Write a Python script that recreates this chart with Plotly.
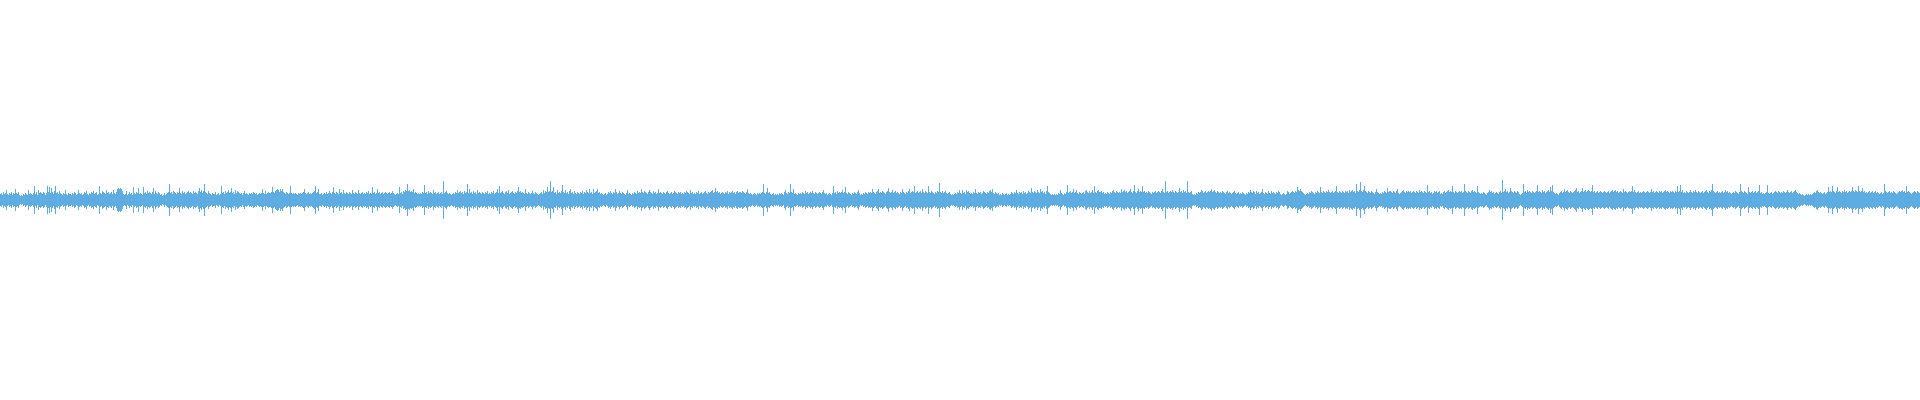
import plotly.graph_objects as go

# Half-height (peak amplitude) of each waveform column,
# one list per 240-column segment of the track.
amp_seg1 = [
    6,7,5,8,6,7,10,6,5,7, 6,8,5,7,6,11,7,6,8,5, 4,5,4,6,5,7,6,5,10,6,
    7,6,5,7,14,6,8,5,10,7, 8,7,6,8,7,5,7,14,8,13, 7,12,8,6,9,14,7,8,6,9,
    7,6,5,7,6,10,6,5,7,6, 6,5,7,6,8,7,5,6,10,7, 6,7,5,6,8,7,9,6,5,7,
    6,8,7,9,6,7,8,5,6,14, 7,6,9,8,7,6,10,7,8,6, 7,8,6,10,7,6,8,11,12,11,
    12,11,9,6,5,6,9,5,6,8, 6,7,5,13,7,6,8,7,12,6, 7,6,5,13,7,8,6,9,7,8,
    7,6,8,12,6,9,7,6,8,7, 5,6,4,5,7,5,6,7,8,16, 7,8,6,9,8,7,6,8,7,12,
    7,6,9,7,8,6,7,8,9,7, 8,7,6,9,7,8,7,6,9,12, 8,10,7,9,16,8,7,6,9,7,
    6,5,7,6,6,8,5,6,7,5, 6,14,7,8,6,9,7,8,10,7, 8,12,7,8,6,10,7,9,8,7,
]
amp_seg2 = [
    6,7,5,7,9,6,7,6,5,7, 6,7,6,8,7,6,7,5,6,7, 6,7,11,7,6,9,6,7,8,7,
    7,8,13,8,7,9,10,11,10,8, 11,9,11,8,7,6,8,7,6,7, 14,7,6,7,6,7,6,5,7,6,
    7,6,7,8,11,7,6,7,8,6, 7,6,7,8,9,14,7,8,11,6, 6,7,5,6,7,6,8,6,7,9,
    7,6,8,13,7,6,8,7,6,11, 7,8,6,10,7,6,8,7,6,8, 7,6,10,7,6,8,7,6,10,7,
    6,7,8,6,7,6,8,7,9,6, 7,6,13,7,8,6,7,11,7,8, 6,7,8,6,7,8,7,6,7,8,
    6,7,9,7,6,5,6,7,6,13, 7,8,6,9,8,10,9,16,9,10, 8,9,8,11,7,8,7,6,7,6,
    7,6,8,7,15,7,8,6,9,7, 8,7,6,10,7,8,6,7,8,6, 7,8,6,19,7,8,9,7,6,7,
    6,5,6,7,6,8,7,10,7,8, 9,7,8,6,9,7,8,16,7,11, 7,8,6,9,7,8,6,10,7,8,
]
amp_seg3 = [
    7,6,8,7,6,8,7,9,6,7, 6,8,7,9,6,7,8,11,7,14, 7,8,9,7,6,8,9,7,10,6,
    7,8,9,7,6,8,7,9,13,8, 9,7,8,7,6,11,7,6,8,7, 6,7,9,7,6,8,7,6,5,6,
    7,8,6,10,7,9,8,13,8,9, 19,8,9,13,7,8,6,10,7,8, 7,9,15,8,7,10,7,8,6,9,
    11,7,8,6,9,7,6,8,7,6, 8,7,9,6,8,7,10,8,7,11, 7,8,6,11,7,8,9,11,7,8,
    6,7,6,5,6,7,5,6,8,7, 9,7,6,8,7,11,8,6,7,9, 7,6,8,7,6,5,7,10,6,7,
    6,5,7,6,8,7,6,9,7,8, 7,11,8,7,9,8,7,6,8,10, 8,7,6,9,7,8,6,7,11,7,
    8,7,6,8,7,6,8,9,7,6, 7,8,6,7,9,8,7,6,8,7, 8,6,7,6,8,7,9,8,7,6,
    10,7,8,6,7,6,8,7,9,6, 7,8,6,7,8,9,7,6,8,7, 8,9,10,7,8,12,8,9,7,8,
]
amp_seg4 = [
    6,7,8,7,6,8,7,9,6,8, 7,8,9,7,8,6,8,9,7,8, 8,7,9,8,7,6,8,11,7,6,
    7,6,5,6,7,6,5,7,6,7, 6,7,8,16,7,6,8,12,7,8, 6,5,6,7,5,6,5,6,5,7,
    6,7,6,5,8,10,7,6,8,7, 16,8,7,11,6,7,6,5,7,6, 7,6,8,7,6,9,7,8,6,7,
    8,7,9,7,6,8,7,6,7,8, 7,6,8,10,7,6,7,5,6,7, 6,5,7,14,7,8,6,9,7,8,
    7,8,10,7,8,13,7,6,8,7, 6,5,7,6,8,7,6,8,10,7, 5,6,5,7,6,8,7,6,8,7,
    8,7,11,8,7,6,8,9,11,7, 8,7,9,8,7,6,8,9,12,8, 7,8,10,7,8,9,7,8,7,6,
    8,7,11,8,7,6,8,7,9,11, 7,8,9,8,14,7,8,9,7,8, 9,7,11,8,7,9,8,7,14,8,
    7,9,8,7,6,8,7,9,8,17, 8,7,9,7,8,9,7,6,7,8, 6,5,6,5,6,7,6,8,7,10,
]
amp_seg5 = [
    7,6,10,7,8,6,10,8,9,7, 6,7,6,8,7,11,7,6,8,7, 8,6,7,9,8,7,6,8,7,9,
    10,8,11,7,6,8,7,6,7,5, 6,5,7,6,5,6,7,5,6,5, 6,8,7,6,8,7,10,7,6,8,
    7,8,6,9,7,8,6,7,9,8, 7,12,8,7,9,8,7,10,8,7, 11,8,9,7,8,6,9,14,8,7,
    6,5,6,5,6,5,6,5,7,6, 10,7,6,5,7,6,8,15,7,8, 9,7,8,11,7,8,10,7,6,8,
    7,6,7,8,6,9,10,8,7,9, 7,8,10,7,14,8,7,9,10,8, 8,9,7,8,6,7,6,8,7,6,
    8,7,9,10,8,7,9,8,7,8, 7,11,8,9,10,8,9,7,8,9, 11,8,7,9,15,8,7,9,11,8,
    9,8,14,8,9,7,8,7,9,8, 7,6,8,7,8,9,7,8,9,8, 7,9,11,8,7,19,8,9,7,8,
    9,8,10,8,7,9,8,7,8,12, 8,9,7,10,8,9,7,19,8,7, 8,9,6,5,6,5,7,6,8,7,
]
amp_seg6 = [
    8,10,9,7,8,9,7,8,9,8, 9,11,8,9,10,8,7,9,8,7, 8,7,9,8,7,6,8,9,7,8,
    7,6,7,8,9,7,6,7,8,6, 7,6,8,7,6,5,7,6,8,7, 10,8,7,9,8,6,9,7,8,6,
    7,8,11,7,6,8,7,6,9,7, 6,9,7,8,7,6,8,7,9,8, 6,5,6,7,6,5,6,9,8,6,
    7,8,9,8,7,9,8,13,10,9, 11,9,8,7,6,5,6,7,6,8, 7,9,8,7,6,8,7,9,8,7,
    13,8,7,9,8,7,9,8,10,8, 7,8,9,7,8,9,14,8,7,9, 8,7,9,8,7,9,8,9,7,10,
    8,9,10,8,9,7,16,9,8,10, 18,9,8,10,14,9,8,7,9,8, 7,9,8,7,6,8,11,8,7,6,
    7,6,8,7,9,8,7,12,8,9, 9,8,7,9,8,7,9,11,7,6, 7,8,9,10,8,7,9,8,9,8,
    9,7,8,9,8,7,9,8,7,10, 8,9,8,7,9,8,7,15,8,9, 7,8,6,7,9,8,9,7,8,9,
]
amp_seg7 = [
    6,7,6,8,9,7,8,9,10,8, 9,8,14,8,7,9,8,7,8,9, 8,9,7,8,16,9,8,7,9,8,
    7,9,10,8,9,8,7,14,8,7, 6,7,6,8,7,6,5,7,8,10, 8,9,7,8,6,7,8,7,6,8,
    9,7,20,8,9,11,8,9,7,8, 12,9,8,7,9,8,7,9,8,6, 5,6,7,16,8,9,7,10,8,9,
    8,7,9,8,7,8,9,15,8,9, 8,7,10,8,9,7,8,9,10,8, 13,9,15,8,7,6,7,6,5,7,
    8,9,7,8,11,8,9,10,8,7, 9,8,7,8,9,10,12,8,9,7, 8,9,12,8,9,10,8,9,10,9,
    8,9,15,8,9,7,8,9,7,8, 9,8,7,8,9,8,7,8,9,7, 8,9,10,8,9,10,8,9,7,8,
    9,8,7,11,8,9,8,7,8,9, 8,9,14,8,10,8,7,8,9,7, 8,7,8,9,8,7,8,9,8,7,
    8,11,8,9,7,8,9,8,7,9, 8,9,7,8,9,10,8,9,8,7, 9,8,9,8,7,9,8,14,8,9,
]
amp_seg8 = [
    15,8,10,7,8,7,9,8,7,8, 10,8,7,9,8,10,8,7,9,8, 7,8,9,7,8,9,10,8,7,9,
    8,10,16,9,8,7,8,9,7,8, 7,8,9,7,8,10,8,9,7,8, 7,6,7,8,7,9,8,7,6,8,
    16,9,8,7,9,8,7,6,13,8, 7,8,9,7,8,9,7,8,9,15, 7,8,6,7,6,7,8,15,7,6,
    7,8,6,7,8,9,8,7,9,8, 7,8,7,9,8,7,8,10,8,7, 8,9,7,8,9,10,8,7,6,7,
    6,5,6,5,4,5,6,5,6,5, 6,5,6,7,8,7,9,10,8,7, 8,7,6,7,8,6,7,8,13,8,
    9,8,14,9,8,7,9,13,8,9, 8,7,9,8,10,8,9,7,8,9, 8,9,13,9,8,10,9,8,14,9,
    8,9,12,8,9,7,8,7,8,9, 7,8,9,7,8,9,7,8,7,6, 7,8,6,7,16,9,8,7,8,9,
    7,8,7,9,8,7,6,7,8,9, 8,9,10,8,9,7,14,8,9,8, 7,6,7,8,9,8,7,9,8,7,
]

amp = (amp_seg1 + amp_seg2 + amp_seg3 + amp_seg4 +
       amp_seg5 + amp_seg6 + amp_seg7 + amp_seg8)
n = len(amp)
cols = list(range(n))

fig = go.Figure(
    go.Bar(
        x=cols,
        y=[2 * a for a in amp],
        base=[-a for a in amp],
        marker=dict(color="#5DADE2", line=dict(width=0)),
        hoverinfo="skip",
    )
)
fig.update_layout(
    width=1920,
    height=400,
    margin=dict(l=0, r=0, t=0, b=0, pad=0),
    paper_bgcolor="white",
    plot_bgcolor="white",
    bargap=0,
    showlegend=False,
    xaxis=dict(visible=False, range=[-0.5, n - 0.5], fixedrange=True),
    yaxis=dict(visible=False, range=[-200.5, 199.5], fixedrange=True),
)
fig.write_html(
    "out.html",
    config={"displayModeBar": False},
    post_script="document.body.style.margin='0';document.body.style.padding='0';document.body.style.overflow='hidden';",
)
